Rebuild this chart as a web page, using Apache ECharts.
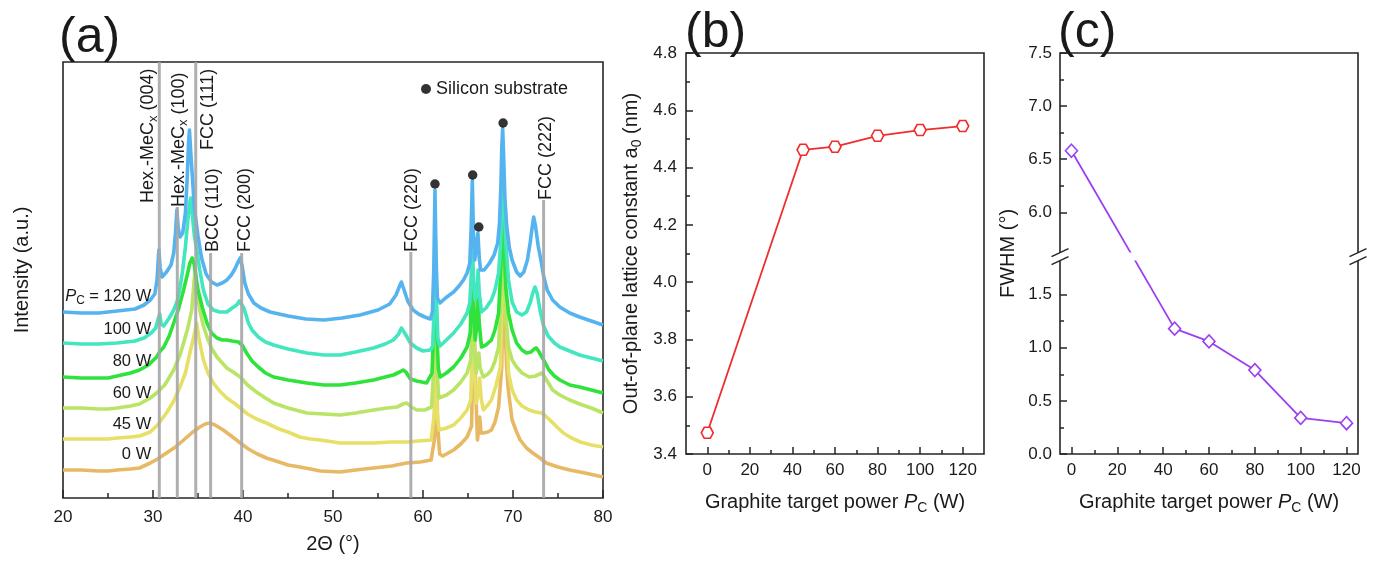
<!DOCTYPE html>
<html>
<head>
<meta charset="utf-8">
<script src="https://cdn.jsdelivr.net/npm/echarts@6/dist/echarts.min.js"></script>
<style>
  html, body { margin: 0; padding: 0; background: #fff; }
  #main { width: 1381px; height: 568px; }
</style>
</head>
<body>
<div id="main"></div>
<script>
const FONT = '"Liberation Sans", Arimo, Arial, sans-serif';
const INK = '#1a1a1a';
const FRAME = '#262626';

// ---- (a) XRD patterns, [2θ (°), intensity (a.u., stacked)] ----
const xrd0W = [[20,28],[22,28],[24,27],[25,27],[26,28],[27.5,29],[28.5,30],[29.7,35],[30.5,39],[31.5,45],[32.5,51],[33.4,58],[34.3,65],[35.2,71],[35.8,74],[36.3,75],[36.9,73],[37.8,68],[38.7,62],[39.7,55],[40.6,49],[41.6,44],[42.6,40],[44,36],[45,33],[46.3,31],[47.5,29],[48.6,27],[50.8,26],[52.5,28],[54.5,30],[56.5,32],[58.2,35],[59.7,36],[60.9,38],[61.3,60],[61.5,125],[61.65,70],[61.85,44],[62.2,42],[63.4,48],[64.2,54],[64.9,61],[65.4,72],[65.65,198],[65.85,110],[66.05,58],[66.2,70],[66.3,81],[66.45,65],[66.7,65],[67.2,66],[67.6,68],[68.0,76],[68.4,91],[68.75,131],[68.95,240],[69.1,175],[69.3,130],[69.45,110],[69.9,78],[70.4,66],[70.8,58],[71.5,50],[72.2,45],[73.0,40],[73.7,35],[75.0,31],[76.3,28],[78,25],[80,21]];
const xrd45W = [[20,59],[22,59],[24,59],[25,59],[26,60],[27.5,61],[28.5,62],[29.7,66],[30.5,73],[31.5,85],[32.3,97],[33.0,111],[33.6,125],[34.1,145],[34.5,160],[34.85,175],[35.1,160],[35.6,138],[36.1,125],[36.7,115],[37.4,107],[38.2,100],[39.0,95],[39.7,90],[40.5,84],[41.5,79],[42.6,75],[44,69],[45,66],[46.3,61],[47.5,59],[48.6,58],[50.8,55],[52.5,55],[54.5,55],[56.5,56],[58.2,56],[59.5,57],[60.9,58],[61.2,80],[61.45,125],[61.6,80],[61.8,68],[62.6,70],[63.4,73],[64.2,80],[64.9,88],[65.3,98],[65.6,180],[65.75,120],[65.95,95],[66.15,110],[66.3,120],[66.45,100],[66.7,88],[67.2,93],[67.6,98],[68.1,112],[68.6,131],[68.85,220],[69.0,260],[69.2,190],[69.5,125],[69.9,108],[70.4,98],[71.0,92],[71.8,88],[72.5,86],[73.2,85],[73.6,82],[74.1,78],[75.0,70],[75.6,65],[76.5,60],[77.5,56],[78.7,53],[80,51]];
const xrd60W = [[20,90],[22,90],[24,89],[25,89],[26,90],[27.5,92],[28.5,94],[29.7,100],[30.4,105],[31.3,113],[32.3,128],[33.0,143],[33.4,155],[33.9,171],[34.3,188],[34.55,215],[34.67,228],[34.8,215],[35.0,200],[35.2,188],[35.6,172],[36.0,161],[36.5,150],[37.1,141],[37.7,135],[38.2,130],[38.9,126],[39.7,121],[40.5,113],[41.5,106],[42.5,100],[43.4,95],[45,90],[47.1,85],[49,84],[50.8,83],[52.5,85],[54.5,88],[56.0,90],[57.1,91],[57.8,94],[58.2,95],[58.7,91],[59.3,88],[60.2,88],[60.95,91],[61.2,130],[61.4,180],[61.55,130],[61.75,100],[61.9,98],[62.6,103],[63.4,108],[64.2,116],[64.9,125],[65.3,138],[65.55,200],[65.7,150],[65.9,125],[66.05,135],[66.2,145],[66.35,130],[66.7,121],[67.2,124],[67.6,128],[68.0,137],[68.4,151],[68.65,200],[68.9,280],[69.05,230],[69.2,180],[69.5,151],[69.9,138],[70.4,131],[71.0,125],[71.8,121],[72.5,122],[73.2,125],[73.6,120],[74.4,108],[75.2,103],[76.3,98],[77.4,94],[78.7,90],[80,85]];
const xrd80W = [[20,121],[22,120],[24,120],[25,120],[26,122],[27.5,125],[28.5,128],[29.5,133],[30.4,141],[30.8,147],[31.2,151],[31.8,162],[32.3,175],[32.8,188],[33.4,208],[33.8,223],[34.1,235],[34.35,240],[34.6,233],[34.8,220],[35.0,208],[35.5,190],[36.0,175],[36.5,165],[37.1,160],[37.7,158],[38.2,158],[38.8,157],[39.5,156],[39.9,153],[40.4,145],[41.0,137],[41.7,131],[42.5,125],[43.4,121],[45,118],[47.1,115],[49,113],[50.8,113],[52.5,115],[54.5,118],[55.8,121],[56.7,123],[57.4,126],[57.8,128],[58.1,126],[58.6,119],[59.3,117],[60.4,115],[61.0,125],[61.2,170],[61.37,230],[61.5,175],[61.7,130],[61.9,121],[62.6,125],[63.4,131],[64.2,140],[64.9,151],[65.25,165],[65.45,235],[65.58,190],[65.8,158],[65.95,170],[66.1,211],[66.25,175],[66.5,151],[67.0,153],[67.6,158],[68.0,168],[68.4,185],[68.65,230],[68.85,300],[69.0,255],[69.2,210],[69.5,185],[69.9,168],[70.4,155],[71.0,148],[71.5,145],[72.0,146],[72.35,149],[72.6,150],[72.9,146],[73.4,138],[74.0,128],[74.6,122],[75.2,118],[76.3,113],[77.4,111],[78.7,108],[80,105]];
const xrd100W = [[20,155],[22,154],[24,154],[26,155],[28,157],[29,160],[29.8,165],[30.3,170],[30.6,180],[30.75,184],[30.9,174],[31.2,172],[31.8,180],[32.3,188],[32.7,197],[33.0,210],[33.3,228],[33.6,251],[33.9,281],[34.1,296],[34.2,300],[34.35,285],[34.6,262],[34.9,246],[35.2,228],[35.6,208],[36.1,194],[36.7,188],[37.4,186],[38.2,186],[38.8,190],[39.3,193],[39.6,197],[39.8,198],[40.1,190],[40.6,175],[41.0,168],[41.7,161],[42.5,156],[43.4,153],[45,149],[47.1,145],[49,143],[50.8,143],[52.5,146],[54.5,150],[55.8,154],[56.7,158],[57.3,164],[57.6,170],[57.8,172],[58.1,163],[58.6,155],[59.3,150],[60.0,147],[60.8,148],[61.1,152],[61.25,200],[61.38,260],[61.5,200],[61.65,160],[61.9,152],[62.6,158],[63.4,165],[64.2,174],[64.9,185],[65.2,195],[65.35,220],[65.5,255],[65.62,215],[65.8,198],[65.98,205],[66.12,228],[66.25,205],[66.5,186],[67.0,190],[67.6,198],[68.0,208],[68.4,225],[68.6,250],[68.75,295],[68.88,330],[69.0,300],[69.2,255],[69.5,218],[69.9,196],[70.4,186],[71.0,183],[71.5,186],[71.9,195],[72.2,205],[72.45,211],[72.7,204],[73.0,188],[73.4,172],[73.9,162],[74.6,155],[75.2,151],[76.3,147],[77.4,143],[78.7,140],[80,137]];
const xrd120W = [[20,186],[22,185],[24,185],[26,187],[28,189],[29,193],[29.7,198],[30.2,204],[30.45,218],[30.65,248],[30.8,230],[31.0,221],[31.5,226],[32.0,233],[32.3,245],[32.5,265],[32.65,288],[32.8,270],[33.0,261],[33.3,265],[33.6,285],[33.8,320],[33.95,355],[34.05,368],[34.2,345],[34.4,318],[34.6,290],[35.0,262],[35.4,240],[35.9,224],[36.5,216],[37.1,213],[37.7,215],[38.2,218],[38.7,223],[39.1,229],[39.45,236],[39.7,240],[39.9,232],[40.2,215],[40.6,204],[41.2,195],[42.0,190],[43,186],[45,182],[47,179],[49,178],[51,180],[53,183],[55,188],[56.3,194],[57.0,203],[57.4,212],[57.6,216],[57.9,208],[58.3,197],[58.9,188],[59.5,184],[60.2,181],[60.8,179],[61.05,186],[61.2,230],[61.33,308],[61.45,240],[61.6,200],[61.9,195],[62.5,200],[63.4,206],[64.0,212],[64.5,218],[64.9,225],[65.2,235],[65.35,270],[65.48,318],[65.6,265],[65.75,238],[65.95,240],[66.1,265],[66.25,240],[66.4,228],[66.8,228],[67.4,235],[67.9,243],[68.3,255],[68.5,275],[68.65,310],[68.75,350],[68.85,370],[68.95,345],[69.1,300],[69.3,272],[69.6,250],[69.9,238],[70.4,226],[70.8,222],[71.2,226],[71.6,238],[71.9,255],[72.15,272],[72.3,281],[72.5,272],[72.8,252],[73.1,238],[73.4,222],[73.8,208],[74.4,198],[75.2,191],[76.3,185],[77.4,181],[78.7,177],[80,173]];

const xrdNames = ['0 W', '45 W', '60 W', '80 W', '100 W', '120 W'];
const xrdColors = ['#e8b964', '#e6e066', '#b9e466', '#2fe33c', '#42e6bf', '#55b3ef'];
const xrdData = [xrd0W, xrd45W, xrd60W, xrd80W, xrd100W, xrd120W];

// reference reflections: [2θ, top of the marker line]
const refLines = [[30.7, 436], [32.7, 291], [34.75, 436], [36.4, 245], [39.85, 245], [58.65, 246], [73.4, 298]];
// reflection names: [2θ, intensity at start of text, text]
const refLabels = [
  [29.5, 295, 'Hex.-MeC{s|x} (004)'],
  [32.9, 291, 'Hex.-MeC{s|x} (100)'],
  [36.1, 348, 'FCC (111)'],
  [36.7, 246, 'BCC (110)'],
  [40.2, 246, 'FCC (200)'],
  [58.74, 246, 'FCC (220)'],
  [73.63, 298, 'FCC (222)']
];
// silicon substrate reflections
const siPeaks = [[61.33, 314], [65.52, 323], [66.2, 271], [68.9, 375]];
// power labels beside each pattern: [2θ, intensity, text]
const powerLabels = [
  [29.8, 202, '{i|P}{s|C} = 120 W'],
  [29.8, 169, '100 W'],
  [29.8, 137, '80 W'],
  [29.8, 105, '60 W'],
  [29.8, 74, '45 W'],
  [29.8, 44, '0 W']
];

// ---- (b) lattice constant and (c) FWHM versus graphite target power ----
const powerW = [0, 45, 60, 80, 100, 120];
const latticeA0 = [3.474, 4.462, 4.473, 4.511, 4.531, 4.545];
const fwhmDeg = [6.58, 1.18, 1.06, 0.79, 0.34, 0.29];
const powerTicks = [0, 20, 40, 60, 80, 100, 120];
const powerMinorTicks = [10, 30, 50, 70, 90, 110];
const fwhmTicks = [0, 0.5, 1.0, 1.5, 6.0, 6.5, 7.0, 7.5];
const fwhmMinorTicks = [0.25, 0.75, 1.25, 6.25, 6.75, 7.25];
const fwhmBreak = { start: 1.82, end: 5.62, gap: '2%' };

const HEXAGON = 'path://M0,8.66L5,0L15,0L20,8.66L15,17.32L5,17.32Z';
const RED = '#ef2d2d';
const PURPLE = '#9c3ff0';

const tickStyle = { color: FRAME, width: 1.5 };
const labelStyle = { fontSize: 17, color: INK, fontFamily: FONT };
const noLine = { show: false, onZero: false };
const nameStyle = {
  fontSize: 20, color: INK, fontFamily: FONT, lineHeight: 26,
  rich: {
    i: { fontSize: 20, fontStyle: 'italic', color: INK, fontFamily: FONT },
    s: { fontSize: 14, color: INK, fontFamily: FONT, verticalAlign: 'bottom', lineHeight: 14 }
  }
};

function textLayer(rows, o) {
  return {
    type: 'custom', xAxisIndex: 0, yAxisIndex: 0, z: 6, silent: true,
    data: rows.map(r => [r[0], r[1]]),
    renderItem: (params, api) => {
      const p = api.coord([api.value(0), api.value(1)]);
      return {
        type: 'text', x: p[0], y: p[1], rotation: o.rotation,
        style: {
          text: rows[params.dataIndex][2], fontSize: o.fontSize, fontFamily: FONT,
          fill: INK, align: o.align, verticalAlign: 'middle', lineHeight: o.fontSize + 4,
          rich: {
            i: { fontSize: o.fontSize, fontStyle: 'italic', fontFamily: FONT, fill: INK },
            s: { fontSize: o.fontSize * 0.72, fontFamily: FONT, fill: INK, verticalAlign: 'bottom', lineHeight: o.fontSize * 0.72 }
          }
        }
      };
    }
  };
}

const series = [];
xrdData.forEach((d, k) => {
  series.push({
    type: 'line', name: xrdNames[k], xAxisIndex: 0, yAxisIndex: 0, data: d,
    symbol: 'none', silent: true, z: 2,
    lineStyle: { color: xrdColors[k], width: 3.6, join: 'round' }
  });
});
series.push({
  type: 'custom', xAxisIndex: 0, yAxisIndex: 0, z: 3, silent: true,
  data: refLines,
  renderItem: (params, api) => {
    const a = api.coord([api.value(0), 0]);
    const b = api.coord([api.value(0), api.value(1)]);
    return { type: 'line', shape: { x1: a[0], y1: a[1], x2: b[0], y2: b[1] },
      style: { stroke: '#a6a6a6', lineWidth: 3, opacity: 0.9 } };
  }
});
series.push({
  type: 'scatter', name: 'Silicon substrate', xAxisIndex: 0, yAxisIndex: 0, z: 5,
  data: siPeaks, symbol: 'circle', symbolSize: 9.5, itemStyle: { color: '#000' }, silent: true
});
series.push(textLayer(refLabels, { rotation: Math.PI / 2, fontSize: 18, align: 'left' }));
series.push(textLayer(powerLabels, { rotation: 0, fontSize: 16.5, align: 'right' }));
series.push({
  type: 'line', xAxisIndex: 1, yAxisIndex: 1, z: 4,
  data: powerW.map((p, i) => [p, latticeA0[i]]),
  symbol: HEXAGON, symbolSize: [12, 11], showAllSymbol: true,
  lineStyle: { color: RED, width: 1.8 },
  itemStyle: { color: '#fff', borderColor: RED, borderWidth: 1.6 }
});
series.push({
  type: 'line', xAxisIndex: 3, yAxisIndex: 2, z: 4,
  data: powerW.map((p, i) => [p, fwhmDeg[i]]),
  symbol: 'diamond', symbolSize: [12, 13], showAllSymbol: true,
  lineStyle: { color: PURPLE, width: 1.8 },
  itemStyle: { color: '#fff', borderColor: PURPLE, borderWidth: 1.6 }
});

const gridBox = { show: true, borderColor: FRAME, borderWidth: 1.6, backgroundColor: 'transparent' };
const powerName = 'Graphite target power {i|P}{s|C} (W)';

function powerAxis(gridIndex, min, max) {
  return [{
    gridIndex, type: 'value', min, max,
    axisLine: noLine,
    axisTick: { show: true, inside: true, length: 7, lineStyle: tickStyle, customValues: powerTicks },
    axisLabel: { ...labelStyle, margin: 8, customValues: powerTicks },
    splitLine: { show: false },
    name: powerName, nameLocation: 'middle', nameGap: 35, nameTextStyle: nameStyle
  }, {
    gridIndex, type: 'value', min, max, position: 'bottom',
    axisLine: noLine,
    axisTick: { show: true, inside: true, length: 4, lineStyle: tickStyle, customValues: powerMinorTicks },
    axisLabel: { show: false },
    splitLine: { show: false }
  }];
}

const breakAreaStyle = {
  show: true, expandOnClick: false, zigzagAmplitude: 0, zigzagZ: 100,
  itemStyle: { color: '#fff', borderColor: '#fff', borderWidth: 0, opacity: 1 }
};

const option = {
  animation: false,
  backgroundColor: '#fff',
  textStyle: { fontFamily: FONT },
  grid: [
    { left: 63, top: 62, width: 540, height: 436, ...gridBox },
    { left: 686, top: 53, width: 298, height: 401, ...gridBox },
    { left: 1060, top: 53, width: 298, height: 401, ...gridBox }
  ],
  legend: {
    data: ['Silicon substrate'], left: 416, top: 75, icon: 'circle',
    itemWidth: 10, itemHeight: 10, itemGap: 5, selectedMode: false,
    textStyle: { fontSize: 18, color: INK, fontFamily: FONT }
  },
  xAxis: [
    {
      gridIndex: 0, type: 'value', min: 20, max: 80, interval: 10,
      axisLine: noLine,
      axisTick: { show: true, inside: true, length: 8, lineStyle: tickStyle },
      minorTick: { show: true, splitNumber: 2, length: 5, lineStyle: tickStyle },
      axisLabel: { ...labelStyle, margin: 11 },
      splitLine: { show: false },
      name: '2Θ (°)', nameLocation: 'middle', nameGap: 33, nameTextStyle: nameStyle
    },
    ...powerAxis(1, -10, 130),
    ...powerAxis(2, -5, 125)
  ],
  yAxis: [
    {
      gridIndex: 0, type: 'value', min: 0, max: 436,
      axisLine: noLine, axisTick: { show: false }, axisLabel: { show: false },
      splitLine: { show: false },
      name: 'Intensity (a.u.)', nameLocation: 'middle', nameGap: 28,
      nameTextStyle: { ...nameStyle, padding: [0, 0, 0, 20] }
    },
    {
      gridIndex: 1, type: 'value', min: 3.4, max: 4.8, interval: 0.2,
      axisLine: noLine,
      axisTick: { show: true, inside: true, length: 7, lineStyle: tickStyle },
      minorTick: { show: true, splitNumber: 2, length: 4, lineStyle: tickStyle },
      axisLabel: { ...labelStyle, margin: 9, formatter: v => v.toFixed(1) },
      splitLine: { show: false },
      name: 'Out-of-plane lattice constant a{s|0} (nm)', nameLocation: 'middle', nameGap: 42,
      nameTextStyle: nameStyle
    },
    {
      gridIndex: 2, type: 'value', min: 0, max: 7.5,
      breaks: [fwhmBreak], breakArea: breakAreaStyle,
      axisLine: noLine,
      axisTick: { show: true, inside: true, length: 7, lineStyle: tickStyle, customValues: fwhmTicks },
      axisLabel: { ...labelStyle, margin: 8, customValues: fwhmTicks, hideOverlap: false, formatter: v => v.toFixed(1) },
      splitLine: { show: false },
      name: 'FWHM (°)', nameLocation: 'middle', nameGap: 39, nameTextStyle: nameStyle
    },
    {
      gridIndex: 2, type: 'value', min: 0, max: 7.5, position: 'left',
      breaks: [fwhmBreak], breakArea: { show: false },
      axisLine: noLine,
      axisTick: { show: true, inside: true, length: 4, lineStyle: tickStyle, customValues: fwhmMinorTicks },
      axisLabel: { show: false },
      splitLine: { show: false }
    }
  ],
  graphic: [
    { id: 'ta', type: 'text', left: 59, top: 13, style: { text: '(a)', fontSize: 50, fontFamily: FONT, fill: INK } },
    { id: 'tb', type: 'text', left: 685, top: 8, style: { text: '(b)', fontSize: 50, fontFamily: FONT, fill: INK } },
    { id: 'tc', type: 'text', left: 1058, top: 8, style: { text: '(c)', fontSize: 50, fontFamily: FONT, fill: INK } }
  ],
  series
};

const chart = echarts.init(document.getElementById('main'));
chart.setOption(option);

// axis-break marks "//" on both frame edges of panel (c)
const yLow = chart.convertToPixel({ yAxisIndex: 2 }, fwhmBreak.start);
const yHigh = chart.convertToPixel({ yAxisIndex: 2 }, fwhmBreak.end);
const yc = (yLow + yHigh) / 2;
const xEdges = [chart.convertToPixel({ xAxisIndex: 3 }, -5), chart.convertToPixel({ xAxisIndex: 3 }, 125)];
const marks = [];
xEdges.forEach((x, k) => {
  marks.push({
    id: 'gap' + k, type: 'polygon', z: 200,
    shape: { points: [[x - 8.5, yc], [x + 8.5, yc - 8], [x + 8.5, yc], [x - 8.5, yc + 8]] },
    style: { fill: '#fff' }
  });
  [0, 8].forEach((dy, j) => {
    marks.push({
      id: 'brk' + k + j, type: 'line', z: 201,
      shape: { x1: x - 8.5, y1: yc + dy, x2: x + 8.5, y2: yc - 8 + dy },
      style: { stroke: FRAME, lineWidth: 1.5 }
    });
  });
});
chart.setOption({ graphic: marks });
</script>
</body>
</html>
